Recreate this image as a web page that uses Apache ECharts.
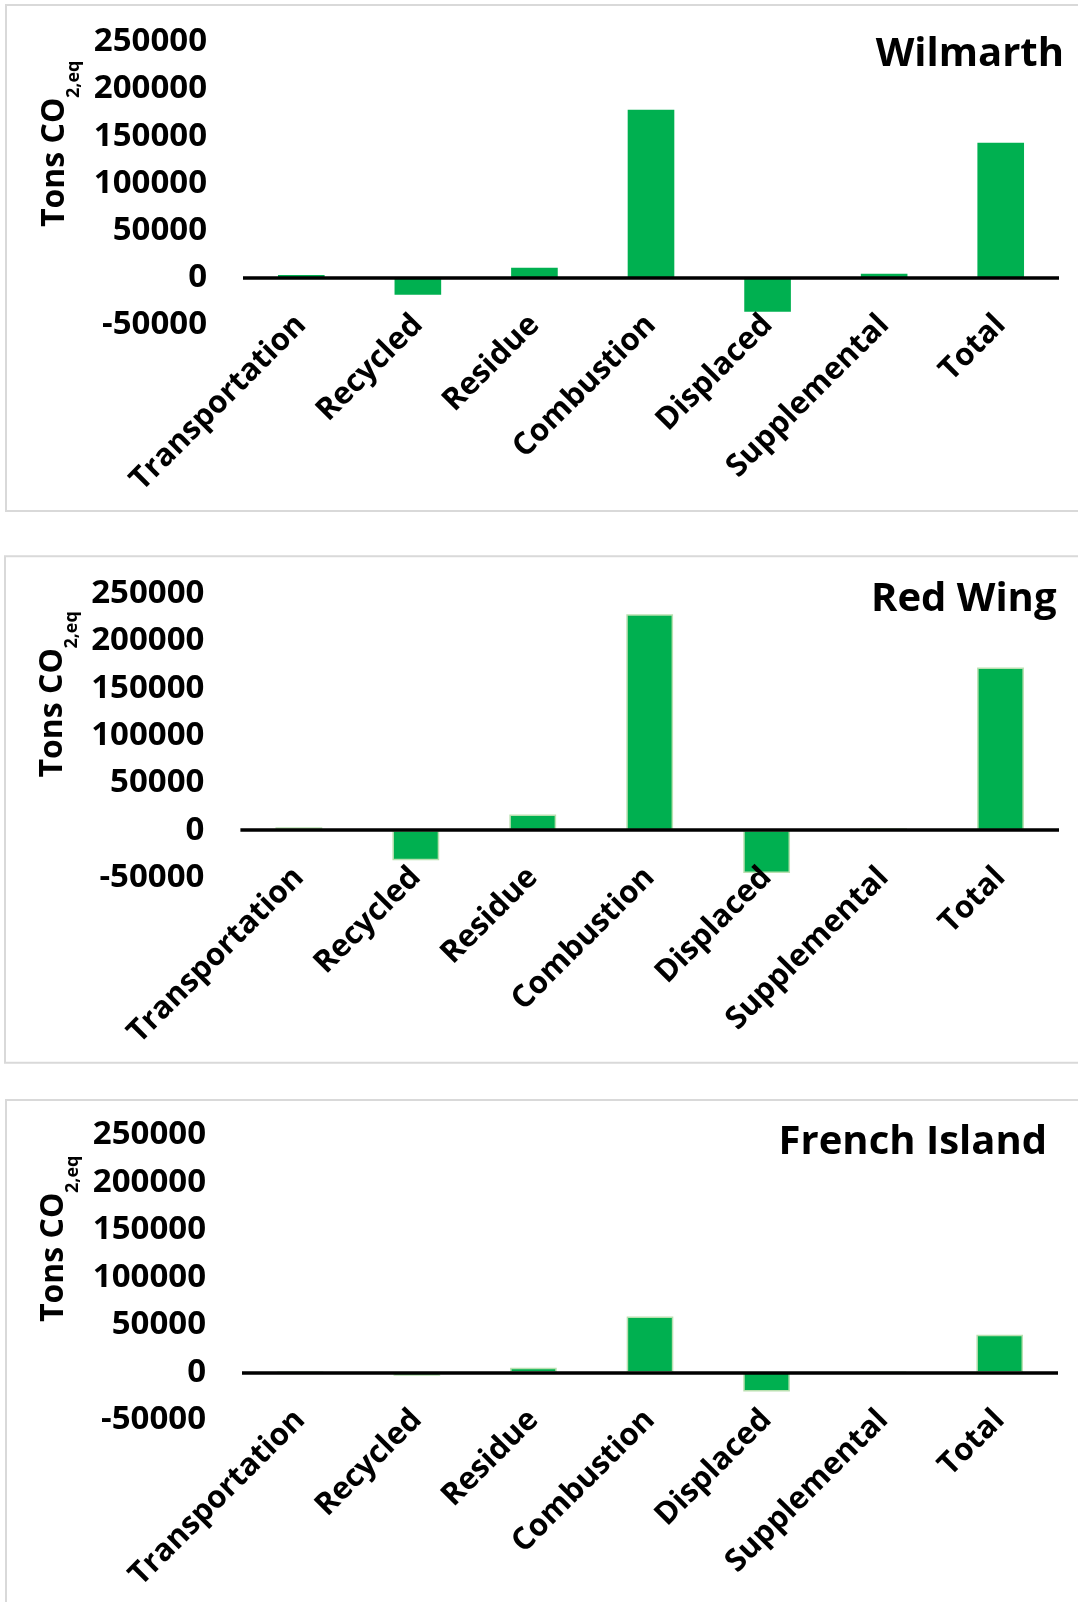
<!DOCTYPE html>
<html>
<head>
<meta charset="utf-8">
<script src="https://cdn.jsdelivr.net/npm/echarts@6/dist/echarts.min.js"></script>
<style>
  html, body { margin: 0; padding: 0; background: #ffffff; }
  #chart { width: 1078px; height: 1602px; }
</style>
</head>
<body>
<div id="chart"></div>
<script>
// Emission categories shared by all three plants
const categories = ['Transportation', 'Recycled', 'Residue', 'Combustion', 'Displaced', 'Supplemental', 'Total'];

// Tons CO2-equivalent per category
const wilmarth = [3000, -18000, 10500, 178000, -36000, 4200, 143000];
const redWing = [3000, -31900, 16500, 228000, -45300, 2000, 171800];
const frenchIsland = [500, -3500, 5000, 59000, -20000, 500, 39700];

const plantNames = ['Wilmarth', 'Red Wing', 'French Island'];

// Value axis range and step
const yMin = -50000;
const yMax = 250000;
const yStep = 50000;

const FONT = '"Open Sans", "Liberation Sans", sans-serif';
const GREEN = '#00b050';

// Plot areas and decoration per panel
const panels = [
  { data: wilmarth, grid: { left: 243, top: 41.7, width: 816, height: 283.3 },
    titleX: 1064, titleY: 54.5, nameX: 54.5, nameY: 227, box: [6, 5, 1100, 506], outline: false },
  { data: redWing, grid: { left: 240.4, top: 593.4, width: 818.6, height: 284.1 },
    titleX: 1056.5, titleY: 599.5, nameX: 52.5, nameY: 777.6, box: [5, 556.2, 1100, 506.5], outline: true },
  { data: frenchIsland, grid: { left: 242, top: 1135, width: 816, height: 285 },
    titleX: 1047, titleY: 1143, nameX: 53.7, nameY: 1322, box: [6, 1100, 1100, 600], outline: true }
];

const grids = [], xAxes = [], yAxes = [], series = [], graphics = [];

panels.forEach((p, i) => {
  grids.push(Object.assign({ containLabel: false }, p.grid));

  xAxes.push({
    type: 'category',
    gridIndex: i,
    data: categories,
    boundaryGap: true,
    z: 5,
    axisLine: { show: false, onZero: false },
    axisTick: { show: false },
    splitLine: { show: false },
    axisLabel: {
      interval: 0,
      rotate: 45,
      margin: -5,
      color: '#000',
      fontFamily: FONT,
      fontWeight: 'bold',
      fontSize: 31
    }
  });

  yAxes.push({
    type: 'value',
    gridIndex: i,
    min: yMin,
    max: yMax,
    interval: yStep,
    axisLine: { show: false },
    axisTick: { show: false },
    splitLine: { show: false },
    axisLabel: {
      margin: 36,
      color: '#000',
      fontFamily: FONT,
      fontWeight: 'bold',
      fontSize: 33,
      formatter: (v) => String(v)
    }
  });

  series.push({
    type: 'bar',
    xAxisIndex: i,
    yAxisIndex: i,
    data: p.data,
    barCategoryGap: '60%',
    z: 2,
    itemStyle: p.outline
      ? { color: GREEN, borderColor: '#b9e0b0', borderWidth: 1.5 }
      : { color: GREEN },
    markLine: {
      silent: true,
      symbol: 'none',
      label: { show: false },
      lineStyle: { color: '#000', width: 3.5, type: 'solid' },
      data: [{ yAxis: 0 }],
      animation: false
    },
    animation: false
  });

  // panel frame
  graphics.push({
    type: 'rect',
    shape: { x: p.box[0], y: p.box[1], width: p.box[2], height: p.box[3] },
    style: { fill: 'none', stroke: '#d9d9d9', lineWidth: 2 },
    z: 0
  });

  // plant name
  graphics.push({
    type: 'text',
    x: p.titleX,
    y: p.titleY,
    style: {
      text: plantNames[i],
      fill: '#000',
      font: 'bold 40px ' + FONT,
      align: 'right',
      verticalAlign: 'middle'
    },
    z: 10
  });

  // value axis name with subscript, reading bottom to top
  graphics.push({
    type: 'group',
    x: p.nameX,
    y: p.nameY,
    rotation: Math.PI / 2,
    children: [
      {
        type: 'text',
        x: 0,
        y: 0,
        style: { text: 'Tons CO', fill: '#000', font: 'bold 32px ' + FONT, align: 'left', verticalAlign: 'middle' }
      },
      {
        type: 'text',
        x: 129,
        y: 19,
        style: { text: '2,eq', fill: '#000', font: 'bold 18px ' + FONT, align: 'left', verticalAlign: 'middle' }
      }
    ],
    z: 10
  });
});

const chart = echarts.init(document.getElementById('chart'), null, { renderer: 'canvas' });
chart.setOption({
  backgroundColor: '#ffffff',
  animation: false,
  grid: grids,
  xAxis: xAxes,
  yAxis: yAxes,
  series: series,
  graphic: graphics
});
</script>
</body>
</html>
